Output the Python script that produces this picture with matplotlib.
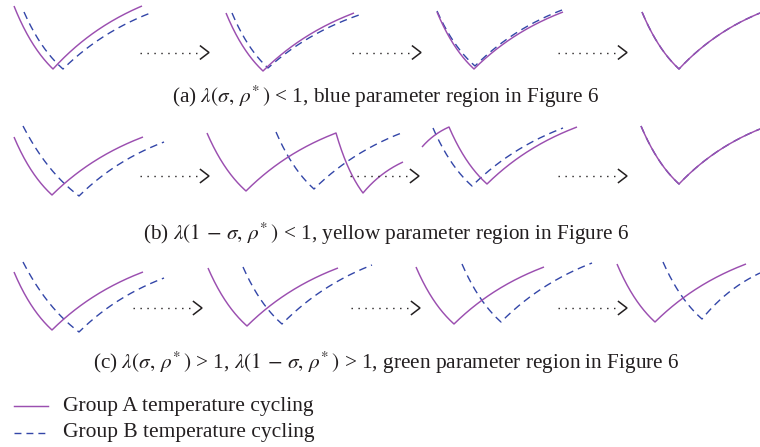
import numpy as np
import matplotlib
matplotlib.use("Agg")
import matplotlib.pyplot as plt

plt.rcParams["font.family"] = ["Liberation Serif", "DejaVu Serif"]
plt.rcParams["mathtext.fontset"] = "stix"

COLOR_A = "#9b4fb0"
COLOR_B = "#3346a8"
TEXT = "#231f20"

# Schematic cycle knots per panel: time and level (level grows downward, cold at the bottom).
# Each inner list is one panel; consecutive knots are joined by cooling / heating branches.
a_A_time = [[14, 53, 142], [226, 263, 354], [437, 474, 563], [642, 679, 760]]
a_A_level = [[6, 69, 6], [13, 71, 13], [12, 69, 12], [12, 69, 13]]
a_B_time = [[24, 63, 153], [232, 268, 359], [437, 475, 562], [642, 679, 760]]
a_B_level = [[12, 69, 12], [13, 68, 15], [11, 66, 10], [12, 69, 13]]

b_A_time = [[14, 52, 143], [207, 246, 336, 363, 403], [422, 449, 487, 577], [641, 679, 760]]
b_A_level = [[137, 195, 137], [133, 191, 133, 193, 162], [147, 127, 184, 127], [126, 184, 129]]
b_B_time = [[23, 79, 164], [276, 314, 404], [433, 472, 563], [641, 679, 760]]
b_B_level = [[126, 196, 142], [132, 189, 132], [128, 186, 128], [126, 184, 129]]

c_A_time = [[14, 52, 143], [208, 247, 338], [416, 454, 544], [617, 655, 746]]
c_A_level = [[272, 330, 272], [268, 326, 268], [267, 324, 267], [264, 322, 264]]
c_B_time = [[23, 79, 164], [243, 282, 372], [462, 501, 592], [663, 702, 760]]
c_B_level = [[262, 332, 278], [267, 324, 265], [264, 322, 263], [262, 319, 273]]

captions = [
    r"(a) $\lambda(\sigma,\, \rho^{*}\,)$ < 1, blue parameter region in Figure 6",
    r"(b) $\lambda(1\,-\,\sigma,\, \rho^{*}\,)$ < 1, yellow parameter region in Figure 6",
    r"(c) $\lambda(\sigma,\, \rho^{*}\,)$ > 1, $\lambda(1\,-\,\sigma,\, \rho^{*}\,)$ > 1, green parameter region in Figure 6",
]
caption_y = [97, 234, 363]

arrow_y = [52.5, 176, 308]
arrow_tips = [[209, 421, 627], [209, 419, 627], [202, 420, 627]]

legend_labels = ["Group A temperature cycling", "Group B temperature cycling"]
legend_y = [406, 433]


def cycle_curve(times, levels, k=0.95, n=80):
    """Join knots with exponential relaxation branches (fast first, then levelling off)."""
    xs, ys = [], []
    for i in range(len(times) - 1):
        u = np.linspace(0.0, 1.0, n)
        f = (1.0 - np.exp(-k * u)) / (1.0 - np.exp(-k))
        xs.append(times[i] + (times[i + 1] - times[i]) * u)
        ys.append(levels[i] + (levels[i + 1] - levels[i]) * f)
    return np.concatenate(xs), np.concatenate(ys)


fig = plt.figure(figsize=(7.6, 4.47), dpi=100)
ax = fig.add_axes([0, 0, 1, 1])
ax.set_xlim(0, 760)
ax.set_ylim(447, 0)
ax.axis("off")

dash_b = (0, (5.5, 3.6))

for A_t, A_l, B_t, B_l in [
    (a_A_time, a_A_level, a_B_time, a_B_level),
    (b_A_time, b_A_level, b_B_time, b_B_level),
    (c_A_time, c_A_level, c_B_time, c_B_level),
]:
    for t, l in zip(B_t, B_l):
        x, y = cycle_curve(t, l)
        ax.plot(x, y, color=COLOR_B, lw=1.0, ls=dash_b, zorder=2)
    for t, l in zip(A_t, A_l):
        x, y = cycle_curve(t, l)
        ax.plot(x, y, color=COLOR_A, lw=1.05, zorder=3, solid_capstyle="butt")

# Dotted "evolves into" arrows
for y, tips in zip(arrow_y, arrow_tips):
    for tip in tips:
        ax.plot([tip - 69, tip - 8], [y, y], color=TEXT, lw=1.0,
                ls=(0, (1, 4)), zorder=4)
        ax.plot([tip - 8.5, tip, tip - 8.5], [y - 6.5, y, y + 6.5],
                color=TEXT, lw=1.1, zorder=4, solid_joinstyle="miter")

for text, y in zip(captions, caption_y):
    ax.text(386, y, text, ha="center", va="center", fontsize=15.3, color=TEXT)

# Legend
ax.plot([14, 48], [legend_y[0], legend_y[0]], color=COLOR_A, lw=1.05)
ax.plot([14, 48], [legend_y[1], legend_y[1]], color=COLOR_B, lw=1.0, ls=(0, (5, 3.6)))
for text, y in zip(legend_labels, legend_y):
    ax.text(63, y, text, ha="left", va="center", fontsize=15.5, color=TEXT)

fig.savefig("out.png", dpi=100)
